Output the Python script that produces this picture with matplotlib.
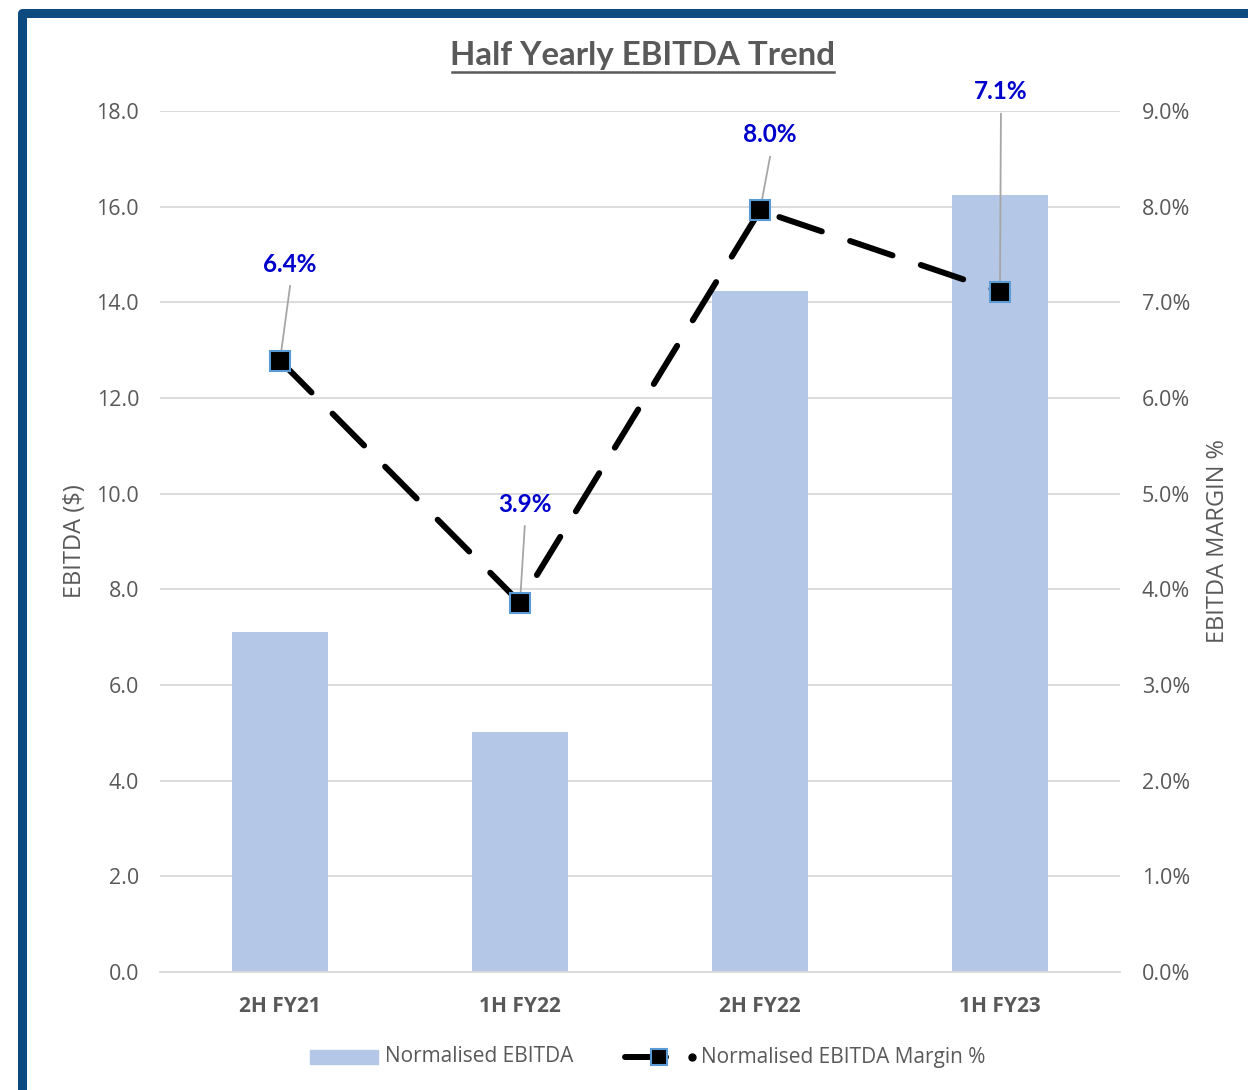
import matplotlib.pyplot as plt
from matplotlib.patches import Rectangle
from matplotlib.lines import Line2D

periods = ['2H FY21', '1H FY22', '2H FY22', '1H FY23']
ebitda = [7.11, 5.02, 14.24, 16.25]
margin = [6.39, 3.86, 7.96, 7.11]
label_pos = [(0.042, 7.28), (0.02, 4.77), (0.042, 8.63), (0.004, 9.08)]  # label centre x offset, bottom y (right axis)

bar_color = '#B4C7E7'
grid_color = '#D9D9D9'
text_color = '#595959'
W, H = 1248, 1090

fig = plt.figure(figsize=(12.48, 10.9), dpi=100)
ax = fig.add_axes([0.1282, 0.1083, 0.7692, 0.7899])
ax2 = ax.twinx()

x = range(len(periods))
bars = ax.bar(x, ebitda, width=0.4, color=bar_color, zorder=2)
ax.set_xlim(-0.5, 3.5)
ax.set_ylim(0, 18)
ax.set_yticks([i * 2.0 for i in range(10)])
ax.set_yticklabels([f'{i * 2.0:.1f}' for i in range(10)], fontsize=15.5, color=text_color, family='Open Sans')
ax.set_xticks(list(x))
ax.set_xticklabels(periods, fontsize=15, fontweight='bold', color=text_color, family='Open Sans')
ax.tick_params(axis='y', length=0, pad=15)
ax.tick_params(axis='x', length=0, pad=17)
ax.grid(axis='y', color=grid_color, lw=1.3, zorder=0)
ax.set_axisbelow(True)
for s in ['top', 'right', 'left']:
    ax.spines[s].set_visible(False)
ax.spines['bottom'].set_color(grid_color)
ax.spines['bottom'].set_linewidth(1.3)
ax.set_ylabel('EBITDA ($)', fontsize=17, color=text_color, family='Open Sans', labelpad=7)

line, = ax2.plot(x, margin, color='black', lw=4.3, dashes=(7.5, 5), dash_capstyle='round',
                 marker='s', ms=15, mfc='black', mec='#5B9BD5', mew=1.5, zorder=5)
ax2.set_ylim(0, 9)
ax2.set_yticks(range(10))
ax2.set_yticklabels([f'{i:.1f}%' for i in range(10)], fontsize=15.5, color=text_color, family='Open Sans')
ax2.tick_params(length=0, pad=15.7)
for s in ax2.spines.values():
    s.set_visible(False)
ax2.set_ylabel('EBITDA MARGIN %', fontsize=17, color=text_color, family='Open Sans', labelpad=11.5)

for i, m in enumerate(margin):
    dx, ly = label_pos[i]
    ax2.plot([i, i + dx], [m, ly - 0.11], color='#A6A6A6', lw=1.3, zorder=4)
    ax2.text(i + dx, ly, f'{m:.1f}%', ha='center', va='bottom', fontsize=17.5, fontweight='bold',
             color='#0000CC', family='Lato', zorder=6)

fig.text(0.5152, 0.949, 'Half Yearly EBITDA Trend', ha='center', va='center', fontsize=23.8,
         fontweight='bold', color=text_color, family='Lato')
fig.add_artist(Line2D([452 / W, 834 / W], [1 - 72 / H, 1 - 72 / H], color=text_color, lw=1.8))

# legend, laid out like the Excel one
ly_leg = 1 - 1057 / H
fig.add_artist(Rectangle((310 / W, ly_leg - 7 / H), 68 / W, 14 / H, color=bar_color, transform=fig.transFigure))
fig.text(385 / W, ly_leg, 'Normalised EBITDA', ha='left', va='center', fontsize=15,
         color=text_color, family='Open Sans')
fig.add_artist(Line2D([625 / W, 666 / W], [ly_leg, ly_leg], color='black', lw=4.3,
                      solid_capstyle='round'))
fig.add_artist(Line2D([659 / W], [ly_leg], marker='s', ms=11, mfc='black', mec='#5B9BD5', mew=1.5))
fig.add_artist(Line2D([692 / W], [ly_leg], marker='o', ms=5, color='black', lw=0))
fig.text(701 / W, ly_leg, 'Normalised EBITDA Margin %', ha='left', va='center', fontsize=15,
         color=text_color, family='Open Sans')

fig.add_artist(Rectangle((22.5 / W, -0.1), 1.2, 1 - 12.5 / H + 0.1, transform=fig.transFigure,
                         fill=False, ec='#0D4A80', lw=6.5, joinstyle='round'))

fig.savefig('out.png', dpi=100)
